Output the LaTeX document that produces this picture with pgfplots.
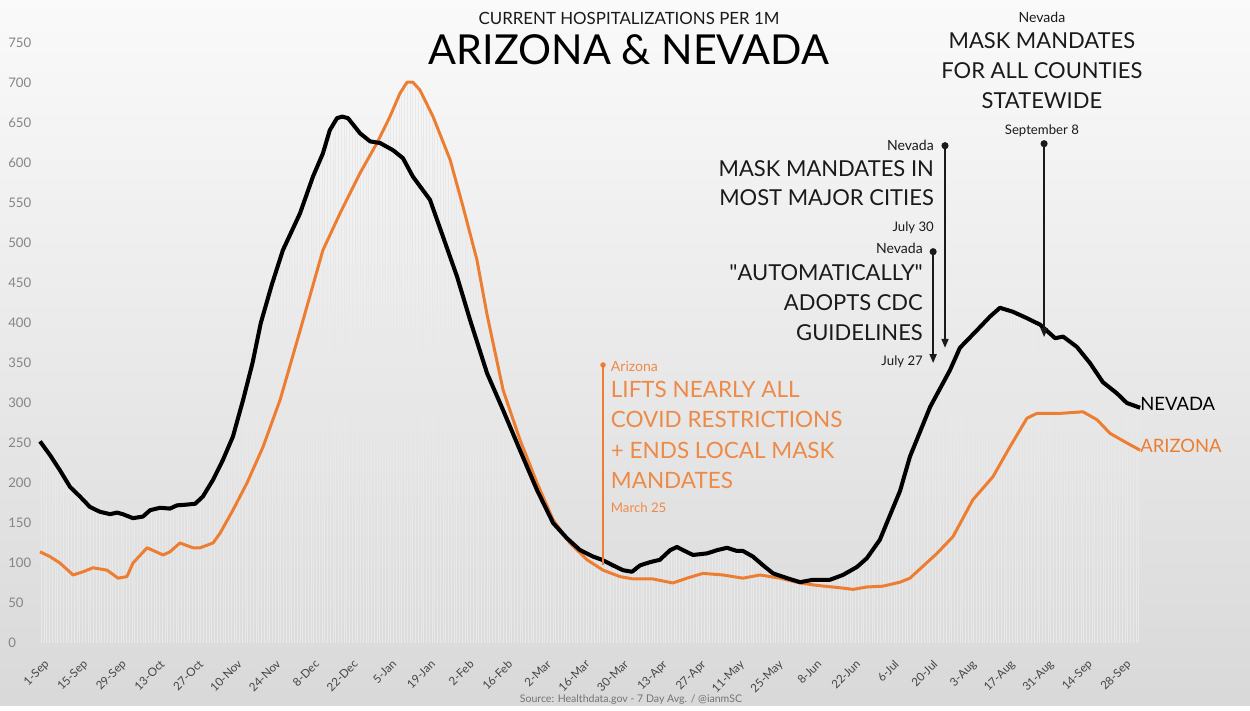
\documentclass[border=0pt]{standalone}
\usepackage{fontspec}
\setmainfont{Lato}
\usepackage{pgfplots}
\pgfplotsset{compat=1.18}
\usepackage{pgfplotstable}
\usetikzlibrary{arrows.meta,backgrounds,patterns.meta}

\definecolor{azorange}{HTML}{ED7D31}
\definecolor{aztext}{HTML}{EE8A48}
\definecolor{ytk}{HTML}{858585}
\definecolor{xtk}{HTML}{454545}
\definecolor{ink}{HTML}{1A1A1A}
\newcommand\fs[1]{\fontsize{#1}{#1}\selectfont}

% day 0 = 1 Sep 2020, 7-day avg hospitalizations per 1M
\pgfplotstableread{
d v
0 252
3.6 235
7.2 216
10.9 195
14.5 183
18.1 170
21.7 164
25.4 161
27.9 163
30 161
33.7 156
37.3 158
39.9 166
43.5 169
47.1 168
49.6 172
53.3 173
56.2 174
59 183
62.7 204
66.3 229
69.9 258
73.6 304
77 350
80 400
84 448
88 491
94.2 537
98.9 583
102.5 612
105 641
107.6 656
109.5 658
111.6 656
116 637
119.6 627
123.2 625
127.9 616
131.5 606
135.1 583
141.3 554
146 508
151.1 458
155.8 404
162 337
167.8 291
173.9 241
180.1 191
185.9 150
190.9 131
195.7 116
200.4 108
203.6 104
207.6 97
211.2 91
214.5 89
217.4 97
221 101
224.6 104
228.3 116
230.8 120
233 116
236.6 110
241.7 112
245.3 116
248.9 119
252.5 115
254.7 115
258.3 108
262 97
265.6 87
270.7 81
275.4 76
280.1 79
286.2 79
290.9 85
296 95
299.6 106
304.3 129
308 160
311.6 190
315.2 233
322.5 295
329.7 341
333.3 369
339.5 391
344.2 408
347.8 419
352.5 414
357.6 406
362.3 398
367.8 381
370.7 383
375.7 370
380.4 350
385.1 326
390.2 312
393.8 300
398.6 294
}\nevada

\pgfplotstableread{
d v
0 114
3.6 108
7.2 100
12 85
15.6 89
19.2 94
24.3 91
28.3 81
31.5 83
33.7 100
38.8 119
44.6 110
47.1 114
50.7 125
55.4 119
58 119
62.7 125
65.2 137
69.9 166
75 200
80.8 245
87 304
94.2 390
102.5 491
108.7 537
115.9 587
122.1 625
126.8 658
130.4 687
133 701
135.1 701
137.7 691
142.4 658
148.6 604
153.3 545
158.3 479
162 410
167.8 316
173.9 254
180.1 200
185.9 154
192 125
198.2 104
204 91
210.1 83
214.9 80
222.1 80
229.3 75
234.4 81
240.2 87
247.5 85
254.7 81
260.9 85
268.1 81
275.4 75
281.5 72
289.9 69
294.6 67
299.6 70
305.4 71
311.6 76
315.2 81
325 112
330.8 133
338 179
345.3 208
351.4 245
357.6 281
361.2 287
369.6 287
377.9 289
383 279
387.7 262
393.8 250
398.6 241
}\arizona

\begin{document}
\begin{tikzpicture}
\begin{axis}[
    scale only axis,
    width=24.233cm, height=12cm,
    xmin=-2, xmax=437,
    ymin=0, ymax=750,
    clip=false,
    axis lines=left,
    axis line style={draw=none},
    major tick length=0pt,
    xtick={0,14,...,392},
    xticklabels={1-Sep,15-Sep,29-Sep,13-Oct,27-Oct,10-Nov,24-Nov,8-Dec,22-Dec,5-Jan,19-Jan,2-Feb,16-Feb,2-Mar,16-Mar,30-Mar,13-Apr,27-Apr,11-May,25-May,8-Jun,22-Jun,6-Jul,20-Jul,3-Aug,17-Aug,31-Aug,14-Sep,28-Sep},
    xticklabel style={xshift=2pt, yshift=-7.5pt, rotate=45, anchor=north east, inner sep=1pt, font=\fs{6.6}, text=xtk},
    ytick={0,50,...,750},
    yticklabel style={anchor=west, inner sep=0pt, xshift=-0.53cm, font=\fs{7.5}, text=ytk},
    /pgf/number format/assume math mode=true,
]
\coordinate (bgsw) at (axis cs:-14.4928,-78.75);
\coordinate (bgne) at (axis cs:438.406,803.75);

% faint daily columns under the curves
\addplot[draw=none, pattern={Lines[angle=90,distance=1.565pt,line width=0.3pt]}, pattern color=black!9, forget plot]
  table[x=d,y=v]{\nevada} \closedcycle;
\addplot[draw=none, pattern={Lines[angle=90,distance=1.565pt,line width=0.3pt]}, pattern color=black!9, forget plot]
  table[x=d,y=v]{\arizona} \closedcycle;

\addplot[azorange, line width=1.7pt, line join=round] table[x=d,y=v]{\arizona};
\addplot[black, line width=2.3pt, line join=round] table[x=d,y=v]{\nevada};

% title
\node[anchor=mid, text=ink, font=\fs{9.6}] at (axis cs:213.4,778.75) {CURRENT HOSPITALIZATIONS PER 1M};
\node[anchor=mid, text=black, font=\fs{23.5}] at (axis cs:213.4,728.75) {ARIZONA \& NEVADA};

% series labels
\node[anchor=mid west, text=black, font=\fs{10.5}] at (axis cs:396.4,296.25) {NEVADA};
\node[anchor=mid west, text=azorange, font=\fs{10.5}] at (axis cs:396.4,243.75) {ARIZONA};

% Arizona, March 25
\draw[azorange, line width=1.1pt] (axis cs:204,97) -- (axis cs:204,347.5);
\fill[azorange] (axis cs:204,347.5) circle (0.055cm);
\node[anchor=mid west, text=aztext, font=\fs{8}] at (axis cs:204.6,345) {Arizona};
\node[anchor=mid west, text=aztext, font=\fs{12.8}] at (axis cs:204.6,312.5) {LIFTS NEARLY ALL};
\node[anchor=mid west, text=aztext, font=\fs{12.8}] at (axis cs:204.6,275) {COVID RESTRICTIONS};
\node[anchor=mid west, text=aztext, font=\fs{12.8}] at (axis cs:204.6,236.25) {+ ENDS LOCAL MASK};
\node[anchor=mid west, text=aztext, font=\fs{12.8}] at (axis cs:204.6,198.75) {MANDATES};
\node[anchor=mid west, text=aztext, font=\fs{7.5}] at (axis cs:204.6,168.75) {March 25};

% Nevada, July 30
\draw[ink, line width=0.8pt, {Circle[length=4pt]}-{Triangle[length=5pt,width=4pt]}] (axis cs:327.9,626) -- (axis cs:327.9,369);
\node[anchor=mid east, text=ink, font=\fs{8}] at (axis cs:326.1,621.25) {Nevada};
\node[anchor=mid east, text=ink, font=\fs{12.5}] at (axis cs:326.1,588.75) {MASK MANDATES IN};
\node[anchor=mid east, text=ink, font=\fs{12.5}] at (axis cs:326.1,552.5) {MOST MAJOR CITIES};
\node[anchor=mid east, text=ink, font=\fs{7.5}] at (axis cs:326.1,520) {July 30};

% Nevada, July 27
\draw[ink, line width=0.8pt, {Circle[length=4pt]}-{Triangle[length=5pt,width=4pt]}] (axis cs:323.6,493.5) -- (axis cs:323.6,350);
\node[anchor=mid east, text=ink, font=\fs{8}] at (axis cs:322.1,492.5) {Nevada};
\node[anchor=mid east, text=ink, font=\fs{12.5}] at (axis cs:322.1,458.75) {\textquotedbl AUTOMATICALLY\textquotedbl};
\node[anchor=mid east, text=ink, font=\fs{12.5}] at (axis cs:322.1,421.25) {ADOPTS CDC};
\node[anchor=mid east, text=ink, font=\fs{12.5}] at (axis cs:322.1,383.75) {GUIDELINES};
\node[anchor=mid east, text=ink, font=\fs{7.5}] at (axis cs:322.1,352.5) {July 27};

% Nevada, September 8
\draw[ink, line width=0.8pt, {Circle[length=4pt]}-{Triangle[length=5pt,width=4pt]}] (axis cs:363.8,628.5) -- (axis cs:363.8,382.5);
\node[anchor=mid, text=ink, font=\fs{8}] at (axis cs:363,781.25) {Nevada};
\node[anchor=mid, text=ink, font=\fs{12.5}] at (axis cs:363,748.75) {MASK MANDATES};
\node[anchor=mid, text=ink, font=\fs{12.5}] at (axis cs:363,711.25) {FOR ALL COUNTIES};
\node[anchor=mid, text=ink, font=\fs{12.5}] at (axis cs:363,673.75) {STATEWIDE};
\node[anchor=mid, text=ink, font=\fs{7.5}] at (axis cs:363,641.25) {September 8};

% source
\node[anchor=mid, text=black!55, font=\fs{6}] at (axis cs:214.1,-68.75) {Source: Healthdata.gov - 7 Day Avg. / @ianmSC};
\end{axis}
\begin{scope}[on background layer]
\shade[top color=black!2, bottom color=black!15] (bgsw) rectangle (bgne);
\end{scope}
\end{tikzpicture}
\end{document}
